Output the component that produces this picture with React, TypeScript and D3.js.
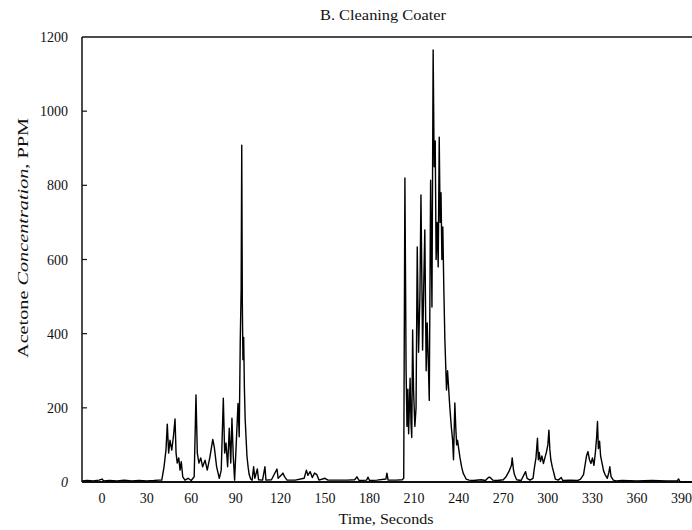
import React from "react";
import * as d3 from "d3";

const chartTitle = "B. Cleaning Coater";
const xTitle = "Time, Seconds";
const yTitleParts = ["Acetone ", "Concentration", ", PPM"];

const xTicks = [0, 30, 60, 90, 120, 150, 180, 210, 240, 270, 300, 330, 360, 390];
const yTicks = [0, 200, 400, 600, 800, 1000, 1200];

const timeSec = [
  -13.5, -10, -6, -2, 0, 1, 5, 10, 15, 20, 25, 30, 35, 38, 40.2,
  41.7, 43, 43.9, 44.8, 45.7, 46.9, 48, 49.1, 49.8, 50.6, 51.6, 52.5, 53.3, 54.3, 55.8, 57.9, 60, 62,
  63.2, 64.1, 65.2, 66.4, 67.7, 69.3, 70.8, 72.6, 74.5, 75.5, 77.1, 78.9, 80.2, 81.6, 82.5, 83.4, 84.5,
  85.6, 86.6, 87.4, 88.3, 89.2, 90.1, 91.5, 92.3, 93, 93.6, 94, 94.4, 94.8, 95.3, 95.8, 96.3, 96.9, 97.5,
  98.3, 99, 100,
  101, 102, 102.8, 104.5, 105.3, 108, 109.6, 110.3, 114, 117.7, 118.5, 121, 121.7, 123, 124.5, 130, 136,
  137.5, 138.5, 140, 141.5, 143, 144.5, 146, 150, 152, 158, 165, 170, 171.5, 173, 178, 179, 180, 185, 191,
  191.7, 192.5, 198, 202,
  203, 203.8, 204.6, 205.2, 205.8, 206.3, 206.8, 207.3, 207.9, 208.4, 209, 209.6, 210.5, 211.3, 212.1, 213,
  213.9, 214.6, 215.7, 216.6, 217.2, 218.1, 218.8, 219.5, 220.2, 221.1, 222, 222.8, 223.5, 224.2, 224.8,
  225.5, 226.2, 226.9, 227.5, 228.1, 228.7, 229.3, 230, 230.7, 231.8, 232.5, 234, 235, 235.9, 236.5, 237.4,
  238, 238.6, 239.2, 240.8, 242, 243, 245, 247,
  250, 255, 258, 260, 261, 263, 266, 270, 272, 274, 275.5, 276, 276.8, 277.5, 279, 282, 284, 285, 286, 288,
  290, 291, 292, 293, 293.6, 294.2, 295, 296, 297, 298, 299, 300, 300.7, 301.3, 302, 303, 304, 305, 307,
  309, 310, 315, 320, 322, 324, 325, 326, 327, 328, 329, 330, 331, 332, 332.8, 333.4, 334, 334.8, 335.5,
  336.5, 337.5, 338.5, 340, 341, 341.7, 342.5, 344, 346, 350, 360, 370, 380, 387, 388, 389, 397,
];

const acetonePpm = [
  3, 4, 3, 5, 8, 3, 4, 3, 5, 3, 4, 3, 4, 5, 5,
  41, 86, 156, 78, 113, 86, 122, 170, 78, 51, 65, 32, 55, 14, 5, 10, 4, 14,
  235, 78, 51, 65, 41, 59, 32, 68, 115, 95, 41, 10, 32, 226, 78, 105, 41,
  145, 51, 172, 68, 5, 86, 212, 122, 380, 520, 908, 480, 330, 390, 250, 170, 120, 70,
  40, 20, 8,
  5, 41, 10, 35, 6, 5, 41, 5, 6, 35, 10, 20, 24, 13, 5, 5, 10,
  32, 18, 28, 12, 24, 20, 5, 10, 5, 5, 5, 6, 14, 4, 5, 13, 4, 5, 8,
  24, 5, 5, 6,
  10, 820, 300, 150, 250, 130, 200, 280, 160, 120, 410, 250, 150, 200, 634, 350,
  500, 774, 356, 560, 680, 300, 429, 330, 220, 814, 472, 1165, 850, 920, 600,
  700, 580, 930, 700, 780, 600, 688, 520, 383, 248, 300, 203, 150, 113, 60, 213,
  150, 100, 113, 67, 40, 24, 8, 5,
  4, 6, 4, 12, 13, 5, 4, 6, 15, 30, 45, 65, 35, 20, 6, 4, 20, 28, 10, 5,
  10, 40, 65, 118, 60, 80, 55, 70, 50, 65, 80, 100, 140, 90, 60, 40, 25, 8, 5,
  12, 4, 5, 4, 8, 20, 45, 70, 82, 60, 50, 65, 45, 80, 120, 163, 90, 110, 70,
  50, 30, 20, 10, 25, 41, 15, 5, 3, 4, 3, 4, 3, 3, 8, 0, 0,
];

const W = 692;
const H = 530;
const left = 82;
const right = 692;
const top = 37;
const bottom = 482;
const font = "'Liberation Serif', 'Times New Roman', serif";

export default function App() {
  const x = d3.scaleLinear().domain([-13.5, 397]).range([left, right]);
  const y = d3.scaleLinear().domain([0, 1200]).range([bottom, top]);
  const pts = timeSec.map((t, i) => [t, acetonePpm[i]] as [number, number]);
  const line = d3
    .line<[number, number]>()
    .x((d) => x(d[0]))
    .y((d) => y(d[1]));

  return (
    <svg
      width={W}
      height={H}
      style={{ position: "absolute", left: 0, top: 0, background: "#fff" }}
      fontFamily={font}
    >
      <rect x={0} y={0} width={W} height={H} fill="#fff" />
      <text x={383} y={20} textAnchor="middle" fontSize={14} textLength={126} lengthAdjust="spacingAndGlyphs" fill="#111">
        {chartTitle}
      </text>
      <line x1={left} x2={right} y1={top} y2={top} stroke="#111" strokeWidth={1.5} />
      <line x1={left} x2={left} y1={top} y2={bottom} stroke="#111" strokeWidth={1.5} />
      <line x1={left} x2={right} y1={bottom} y2={bottom} stroke="#111" strokeWidth={2} />
      {yTicks.map((v) => (
        <g key={v}>
          {v > 0 && v < 1200 && (
            <line x1={left} x2={left + 5} y1={y(v)} y2={y(v)} stroke="#111" strokeWidth={1.2} />
          )}
          <text
            x={68}
            y={y(v) + 5}
            textAnchor="end"
            fontSize={14}
            fontStyle={v === 0 ? "italic" : "normal"}
            fill="#111"
          >
            {v}
          </text>
        </g>
      ))}
      {xTicks.map((t) => (
        <text key={t} x={x(t)} y={503} textAnchor="middle" fontSize={14} fill="#111">
          {t}
        </text>
      ))}
      <text x={386} y={524} textAnchor="middle" fontSize={14} textLength={95} lengthAdjust="spacingAndGlyphs" fill="#111">
        {xTitle}
      </text>
      <text
        transform={`translate(28, ${238}) rotate(-90)`}
        textAnchor="middle"
        fontSize={15}
        textLength={240}
        lengthAdjust="spacingAndGlyphs"
        fill="#111"
      >
        <tspan>{yTitleParts[0]}</tspan>
        <tspan fontStyle="italic">{yTitleParts[1]}</tspan>
        <tspan>{yTitleParts[2]}</tspan>
      </text>
      <path d={line(pts) ?? ""} fill="none" stroke="#000" strokeWidth={1.4} strokeLinejoin="round" />
    </svg>
  );
}
